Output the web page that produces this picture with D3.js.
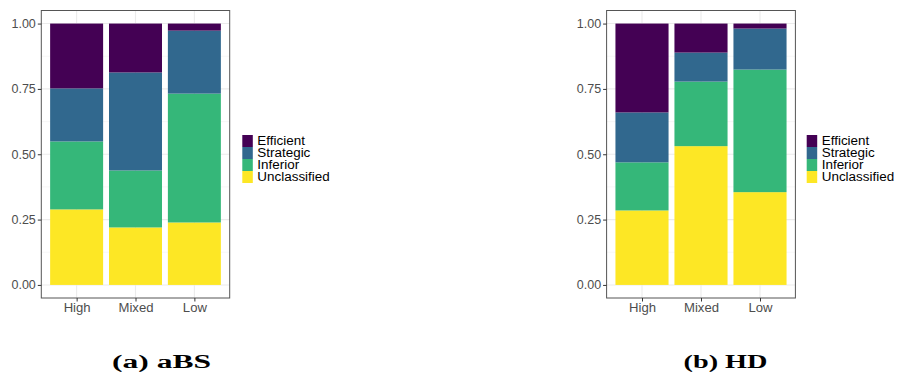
<!DOCTYPE html>
<html><head><meta charset="utf-8">
<script src="https://cdn.jsdelivr.net/npm/d3@7"></script>
<style>body{margin:0;background:#fff}svg{display:block}</style>
</head><body><svg id="c" width="898" height="374"></svg>
<script>
const categories = ["High", "Mixed", "Low"];
const classes = ["Efficient", "Strategic", "Inferior", "Unclassified"];
const colors = ["#440154", "#31688E", "#35B779", "#FDE725"];
const yTicks = [0, 0.25, 0.5, 0.75, 1];
// panel (a) aBS
const aBS_unclassified = [0.289, 0.220, 0.239];
const aBS_inferior     = [0.260, 0.218, 0.493];
const aBS_strategic    = [0.203, 0.375, 0.241];
const aBS_efficient    = [0.248, 0.187, 0.027];
// panel (b) HD
const HD_unclassified = [0.285, 0.531, 0.355];
const HD_inferior     = [0.184, 0.247, 0.469];
const HD_strategic    = [0.191, 0.111, 0.157];
const HD_efficient    = [0.340, 0.111, 0.019];
const captions = ["(a) aBS", "(b) HD"];

const svg = d3.select("#c");
const color = d3.scaleOrdinal().domain(classes).range(colors);

function stretch(sel, k) {
  sel.each(function () {
    const w = this.getComputedTextLength();
    d3.select(this).attr("textLength", w * k).attr("lengthAdjust", "spacingAndGlyphs");
  });
}

function panel(opts) {
  const {x0, x1, y0, y1, vals, legendX, caption, capX, capW} = opts;
  const rows = categories.map((c, i) => ({cat: c, Efficient: vals.efficient[i], Strategic: vals.strategic[i], Inferior: vals.inferior[i], Unclassified: vals.unclassified[i]}));
  const stack = d3.stack().keys(["Unclassified", "Inferior", "Strategic", "Efficient"])(rows);
  const x = d3.scalePoint().domain(categories).range([x0, x1]).padding(0.6);
  const y = d3.scaleLinear().domain([-0.05, 1.05]).range([y1, y0]);
  const bw = x.step() * 0.9;
  const g = svg.append("g");
  // grid
  const minor = [0.125, 0.375, 0.625, 0.875];
  g.selectAll(".mn").data(minor).join("line").attr("x1", x0).attr("x2", x1)
    .attr("y1", d => y(d)).attr("y2", d => y(d)).attr("stroke", "#f2f2f2").attr("stroke-width", 0.6);
  g.selectAll(".mj").data(yTicks).join("line").attr("x1", x0).attr("x2", x1)
    .attr("y1", d => y(d)).attr("y2", d => y(d)).attr("stroke", "#ebebeb").attr("stroke-width", 1.1);
  g.selectAll(".vx").data(categories).join("line").attr("y1", y0).attr("y2", y1)
    .attr("x1", d => x(d)).attr("x2", d => x(d)).attr("stroke", "#ebebeb").attr("stroke-width", 1.1);
  // bars
  stack.forEach(s => {
    g.selectAll(null).data(s).join("rect")
      .attr("x", d => x(d.data.cat) - bw / 2).attr("width", bw)
      .attr("y", d => y(d[1])).attr("height", d => y(d[0]) - y(d[1]))
      .attr("fill", color(s.key));
  });
  // border
  g.append("rect").attr("x", x0).attr("y", y0).attr("width", x1 - x0).attr("height", y1 - y0)
    .attr("fill", "none").attr("stroke", "#555").attr("stroke-width", 1);
  // axes
  const ay = g.append("g").attr("transform", `translate(${x0},0)`)
    .call(d3.axisLeft(y).tickValues(yTicks).tickFormat(d3.format(".2f")).tickSize(3.5).tickPadding(2));
  const ax = g.append("g").attr("transform", `translate(0,${y1})`)
    .call(d3.axisBottom(x).tickSize(3.5).tickPadding(2));
  [ay, ax].forEach(a => {
    a.select(".domain").remove();
    a.selectAll(".tick line").attr("stroke", "#333");
    a.selectAll("text").attr("fill", "#4d4d4d").style("font-family", "Liberation Sans, Arial, sans-serif").style("font-size", "12.5px");
  });
  stretch(ax.selectAll("text"), 1.05);
  // legend
  const lg = g.append("g").attr("transform", `translate(${legendX},135)`);
  classes.forEach((c, i) => {
    lg.append("rect").attr("x", 0).attr("y", i * 12).attr("width", 10.5).attr("height", 12).attr("fill", color(c));
    const t = lg.append("text").attr("x", 15).attr("y", i * 12 + 6).attr("dy", "0.36em").text(c)
      .style("font-family", "Liberation Sans, Arial, sans-serif").style("font-size", "12px").attr("fill", "#000");
    stretch(t, 1.12);
  });
  // caption
  svg.append("text").attr("x", capX).attr("y", 368).text(caption)
    .attr("textLength", capW).attr("lengthAdjust", "spacingAndGlyphs")
    .style("font-family", "Liberation Serif, serif").style("font-weight", "bold").style("font-size", "18px");
}

panel({x0: 41.3, x1: 229.7, y0: 10.5, y1: 298, vals: {unclassified: aBS_unclassified, inferior: aBS_inferior, strategic: aBS_strategic, efficient: aBS_efficient}, legendX: 242.3, caption: captions[0], capX: 112, capW: 99});
panel({x0: 606.6, x1: 795.4, y0: 10.5, y1: 298, vals: {unclassified: HD_unclassified, inferior: HD_inferior, strategic: HD_strategic, efficient: HD_efficient}, legendX: 806.7, caption: captions[1], capX: 683.5, capW: 84});
</script></body></html>
